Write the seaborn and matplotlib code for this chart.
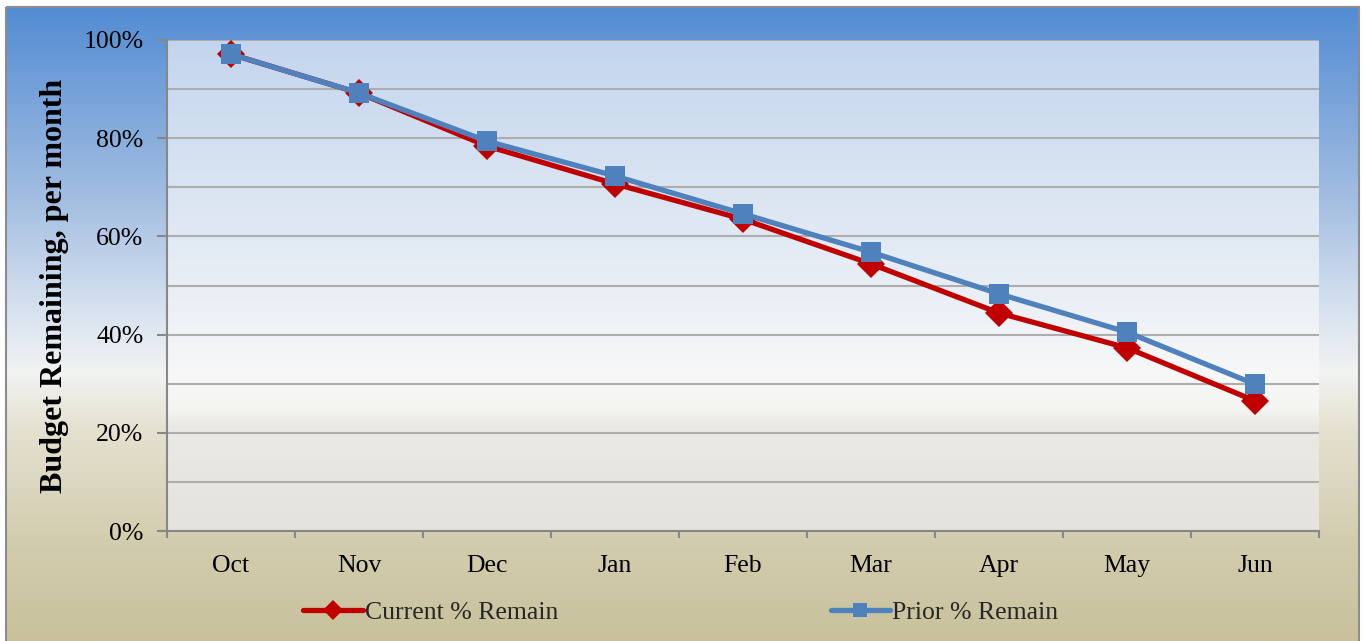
import matplotlib
matplotlib.use("Agg")
import matplotlib.pyplot as plt
import matplotlib.colors as mcolors
import matplotlib.ticker as mticker
import matplotlib.patches as mpatches
import numpy as np
import pandas as pd
import seaborn as sns

# Datos
months = ["Oct", "Nov", "Dec", "Jan", "Feb", "Mar", "Apr", "May", "Jun"]
current_pct = [97.1, 89.2, 78.4, 70.7, 63.5, 54.4, 44.4, 37.3, 26.5]
prior_pct = [97.1, 89.2, 79.4, 72.3, 64.6, 56.8, 48.3, 40.5, 29.9]
series_names = ["Current % Remain", "Prior % Remain"]
y_ticks = [0, 20, 40, 60, 80, 100]

df = pd.DataFrame({
    "Month": months * 2,
    "Pct": current_pct + prior_pct,
    "Series": [series_names[0]] * len(months) + [series_names[1]] * len(months),
})

sns.set_theme(style="white")
plt.rcParams["font.family"] = ["Liberation Serif", "DejaVu Serif"]

W, H = 1362, 641
fig = plt.figure(figsize=(W / 100, H / 100), dpi=100)
fig.patch.set_facecolor("white")

# fondo con degradado (pixeles)
bg = fig.add_axes([0, 0, 1, 1], zorder=-2)
bg.axis("off")

outer = mcolors.LinearSegmentedColormap.from_list("outer", [
    (0.0, "#538CD3"), (0.304, "#A3BEE1"), (0.462, "#D3DFEE"),
    (0.577, "#F2F3F3"), (0.667, "#E5E1D0"), (0.826, "#D4CEB2"), (1.0, "#C8C19B")])
inner = mcolors.LinearSegmentedColormap.from_list("inner", [
    (0.0, "#C3D5EE"), (0.326, "#DCE6F2"), (0.53, "#EBF0F6"),
    (0.692, "#F8F8F8"), (0.754, "#F4F4F1"), (0.785, "#EAE9E4"), (1.0, "#E5E3DD")])
grad = np.linspace(0, 1, 256).reshape(-1, 1)
bg.imshow(grad, cmap=outer, extent=(6, 1359, 641, 7), aspect="auto", zorder=0)
bg.imshow(grad, cmap=inner, extent=(167, 1319, 531, 40), aspect="auto", zorder=1)
bg.add_patch(mpatches.Rectangle((6, 7), 1353, 640, fill=False,
                                edgecolor="#8C8C8C", linewidth=1.5, zorder=2))
bg.set_xlim(0, W)
bg.set_ylim(H, 0)

ax = fig.add_axes([167 / W, 1 - 531 / H, (1319 - 167) / W, (531 - 40) / H])
ax.set_facecolor("none")

sns.lineplot(data=df, x="Month", y="Pct", hue="Series", style="Series",
             palette={series_names[0]: "#C00000", series_names[1]: "#4F81BD"},
             markers={series_names[0]: "D", series_names[1]: "s"},
             dashes=False, sort=False, linewidth=3.8, markersize=14.5,
             markeredgewidth=0, ax=ax)

ax.set_xlim(-0.5, len(months) - 0.5)
ax.set_ylim(0, 100)
ax.set_yticks(y_ticks)
ax.yaxis.set_major_formatter(mticker.FuncFormatter(lambda v, p: f"{v:.0f}%"))
ax.yaxis.set_minor_locator(mticker.FixedLocator([10, 30, 50, 70, 90]))
ax.xaxis.set_minor_locator(mticker.FixedLocator(np.arange(-0.5, len(months), 1)))
ax.set_axisbelow(True)
ax.grid(which="both", axis="y", color="#ADADAD", linewidth=1.5)
ax.grid(which="both", axis="x", visible=False)

for s in ["top", "right"]:
    ax.spines[s].set_visible(False)
for s in ["left", "bottom"]:
    ax.spines[s].set_color("#878787")
    ax.spines[s].set_linewidth(1.5)

ax.tick_params(axis="y", which="major", length=7, width=1.5, color="#878787",
               direction="out", left=True, pad=10, labelsize=18.5, labelcolor="black")
ax.tick_params(axis="y", which="minor", length=0)
ax.tick_params(axis="x", which="major", length=0, pad=17, labelsize=18.5, labelcolor="black")
ax.tick_params(axis="x", which="minor", length=5, width=1.5, color="#878787",
               direction="out", bottom=True)

ax.set_xlabel("")
ax.set_ylabel("Budget Remaining, per month", fontsize=23, fontweight="bold", color="black")
ax.yaxis.set_label_coords(-0.085, 0.5)

handles, labels = ax.get_legend_handles_labels()
ax.get_legend().remove()
fig.legend(handles, labels, loc="center", bbox_to_anchor=(0.5, 0.045), ncol=2,
           frameon=False, columnspacing=10.6, handlelength=2.3, handletextpad=0.1,
           markerscale=0.7, fontsize=18.5)

fig.savefig("out.png", dpi=100)
